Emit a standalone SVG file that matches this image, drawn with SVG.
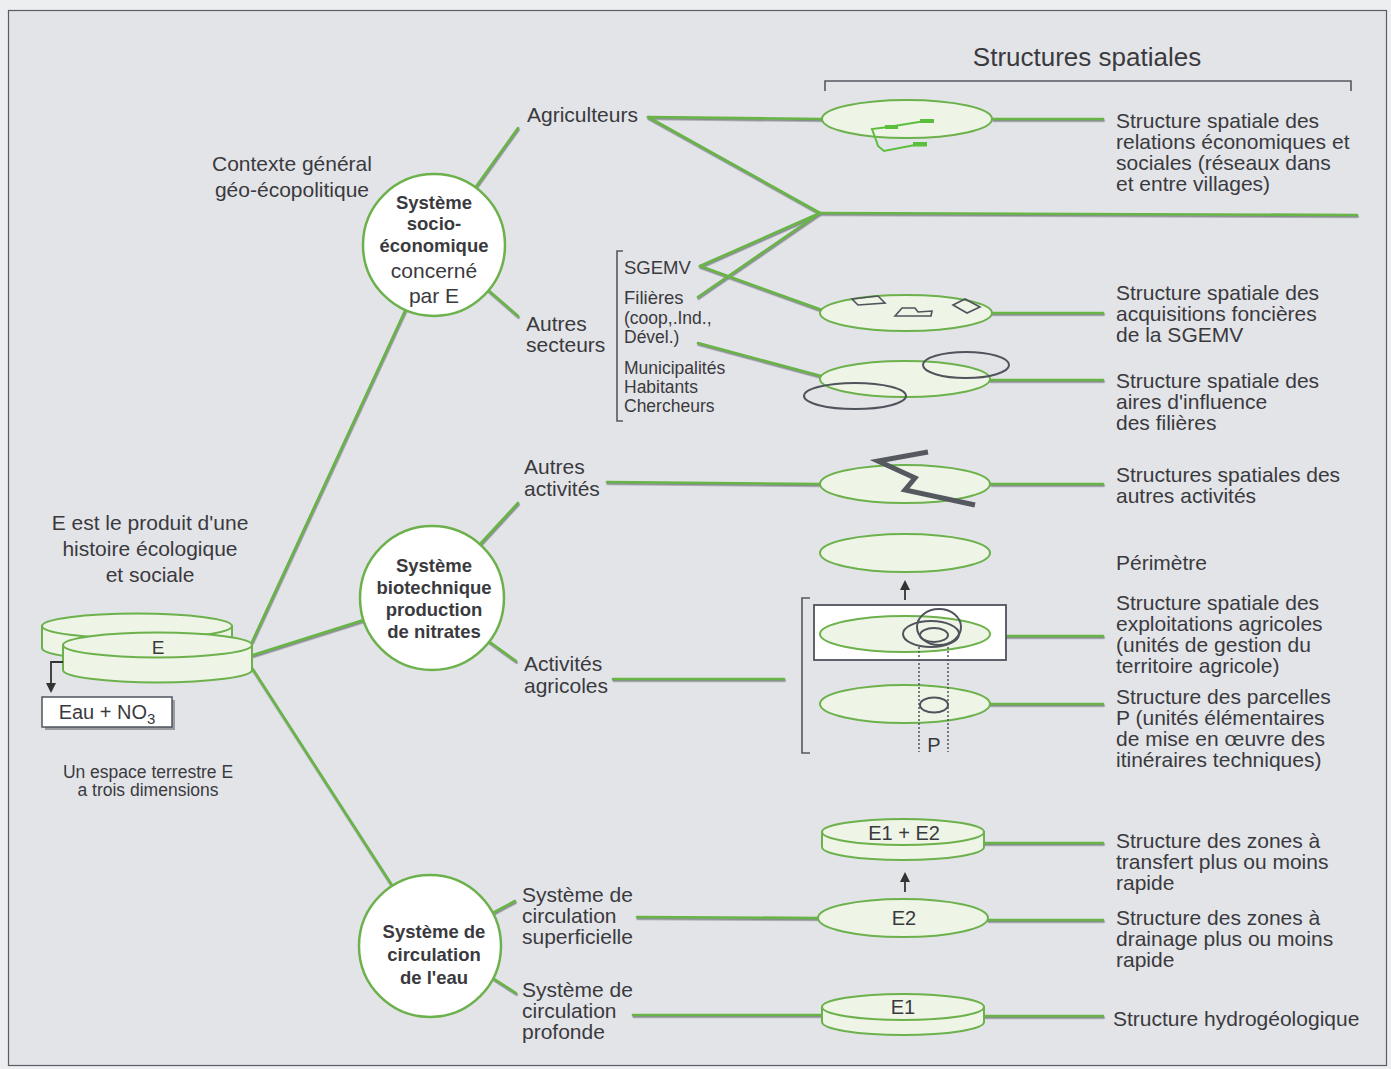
<svg xmlns="http://www.w3.org/2000/svg" width="1391" height="1069" viewBox="0 0 1391 1069">
<defs>
<style>
.t{font-family:"Liberation Sans",Arial,sans-serif;fill:#3a3a3e}
.r{font-size:21px}
.s{font-size:18.5px}
.sl{font-size:17.5px}
.b{font-size:18.5px;font-weight:bold}
.ell{fill:#eef4e6;stroke:#6cb14c;stroke-width:2}
.circ{fill:#ffffff;stroke:#6cb14c;stroke-width:2.5}
.conn{stroke:#68b445;stroke-width:2.6;fill:none;stroke-linecap:round}
.dk{fill:none;stroke:#4f535c;stroke-width:2}
.br{fill:none;stroke:#55585f;stroke-width:1.6}
</style>
<filter id="sh" x="-5%" y="-5%" width="110%" height="110%">
<feDropShadow dx="0.6" dy="1.6" stdDeviation="0.3" flood-color="#7e8088" flood-opacity="0.9"/>
</filter>
<marker id="ah" markerWidth="10" markerHeight="10" refX="5" refY="5" orient="auto" markerUnits="userSpaceOnUse">
<path d="M0,0 L10,5 L0,10 z" fill="#333"/>
</marker>
</defs>
<rect x="0" y="0" width="1391" height="1069" fill="#eceef0"/>
<rect x="8.5" y="10.5" width="1378" height="1055" fill="#e3e4e8" stroke="#5a5d63" stroke-width="1.2"/>

<g id="header">
<text class="t" x="1087" y="66" font-size="26" text-anchor="middle">Structures spatiales</text>
<path class="br" d="M825,91 V81 H1351 V91"/>
</g>

<g id="connectors" filter="url(#sh)">
<line class="conn" x1="252" y1="642" x2="410" y2="300"/>
<line class="conn" x1="253" y1="655" x2="370" y2="618"/>
<line class="conn" x1="252" y1="668" x2="395" y2="890"/>
<line class="conn" x1="470" y1="195" x2="518" y2="128"/>
<line class="conn" x1="480" y1="283" x2="518" y2="316"/>
<line class="conn" x1="470" y1="555" x2="518" y2="503"/>
<line class="conn" x1="480" y1="635" x2="516" y2="661"/>
<line class="conn" x1="485" y1="917" x2="515" y2="901"/>
<line class="conn" x1="488" y1="975" x2="516" y2="993"/>
<line class="conn" x1="648" y1="117" x2="822" y2="119"/>
<line class="conn" x1="648" y1="117" x2="820" y2="213"/>
<line class="conn" x1="820" y1="213" x2="1357" y2="215"/>
<line class="conn" x1="700" y1="266" x2="820" y2="213"/>
<line class="conn" x1="698" y1="297" x2="820" y2="213"/>
<line class="conn" x1="700" y1="266" x2="822" y2="310"/>
<line class="conn" x1="698" y1="343" x2="821" y2="376"/>
<line class="conn" x1="607" y1="482" x2="820" y2="484"/>
<line class="conn" x1="613" y1="679" x2="784" y2="679"/>
<line class="conn" x1="637" y1="917" x2="818" y2="918"/>
<line class="conn" x1="633" y1="1015" x2="822" y2="1015"/>
<line class="conn" x1="993" y1="119" x2="1103" y2="119"/>
<line class="conn" x1="992" y1="313" x2="1103" y2="313"/>
<line class="conn" x1="990" y1="380" x2="1103" y2="380"/>
<line class="conn" x1="991" y1="484" x2="1103" y2="484"/>
<line class="conn" x1="1006" y1="636" x2="1103" y2="636"/>
<line class="conn" x1="990" y1="704" x2="1103" y2="704"/>
<line class="conn" x1="984" y1="843" x2="1103" y2="843"/>
<line class="conn" x1="988" y1="920" x2="1103" y2="920"/>
<line class="conn" x1="984" y1="1016" x2="1103" y2="1016"/>
</g>

<g id="node-E">
<path class="ell" d="M42,626 V648 A95,12.5 0 0 0 232,648 V626 Z"/>
<ellipse class="ell" cx="137" cy="626" rx="95" ry="12.5"/>
<path class="ell" d="M63,645 V670 A94.5,12.5 0 0 0 252,670 V645 Z"/>
<ellipse class="ell" cx="157.5" cy="645" rx="94.5" ry="12.5"/>
<text class="t" x="158" y="654" font-size="19" text-anchor="middle">E</text>
<path d="M63,662 H51 V688" fill="none" stroke="#333" stroke-width="1.8" marker-end="url(#ah)"/>
</g>

<g id="node-eau">
<rect x="45" y="700" width="130" height="30" fill="#9a9ca2"/>
<rect x="42" y="697" width="130" height="30" fill="#ffffff" stroke="#4f535c" stroke-width="1.5"/>
<text class="t" x="107" y="719" font-size="20" text-anchor="middle">Eau + NO<tspan font-size="15" dy="5">3</tspan></text>
</g>

<g id="label-histoire">
<text class="t r" x="150" y="530" text-anchor="middle">E est le produit d'une</text>
<text class="t r" x="150" y="556" text-anchor="middle">histoire écologique</text>
<text class="t r" x="150" y="582" text-anchor="middle">et sociale</text>
</g>
<g id="label-espace">
<text class="t sl" x="148" y="778" text-anchor="middle">Un espace terrestre E</text>
<text class="t sl" x="148" y="796" text-anchor="middle">a trois dimensions</text>
</g>
<g id="label-contexte">
<text class="t r" x="292" y="171" text-anchor="middle">Contexte général</text>
<text class="t r" x="292" y="197" text-anchor="middle">géo-écopolitique</text>
</g>

<g id="node-socio">
<circle class="circ" cx="434" cy="245" r="71"/>
<text class="t b" x="434" y="209" text-anchor="middle">Système</text>
<text class="t b" x="434" y="230" text-anchor="middle">socio-</text>
<text class="t b" x="434" y="252" text-anchor="middle">économique</text>
<text class="t r" x="434" y="278" text-anchor="middle">concerné</text>
<text class="t r" x="434" y="303" text-anchor="middle">par E</text>
</g>

<g id="node-biotech">
<circle class="circ" cx="432" cy="598" r="72"/>
<text class="t b" x="434" y="572" text-anchor="middle">Système</text>
<text class="t b" x="434" y="594" text-anchor="middle">biotechnique</text>
<text class="t b" x="434" y="616" text-anchor="middle">production</text>
<text class="t b" x="434" y="638" text-anchor="middle">de nitrates</text>
</g>

<g id="node-eau-circ">
<circle class="circ" cx="430" cy="946" r="71"/>
<text class="t b" x="434" y="938" text-anchor="middle">Système de</text>
<text class="t b" x="434" y="961" text-anchor="middle">circulation</text>
<text class="t b" x="434" y="984" text-anchor="middle">de l'eau</text>
</g>

<g id="node-agriculteurs"><text class="t r" x="527" y="122">Agriculteurs</text></g>
<g id="node-autres-secteurs">
<text class="t r" x="526" y="331">Autres</text>
<text class="t r" x="526" y="352">secteurs</text>
</g>
<g id="node-secteurs-list">
<path class="br" d="M623,251 H617 V421 H623"/>
<text class="t s" x="624" y="274">SGEMV</text>
<text class="t s" x="624" y="304">Filières</text>
<text class="t sl" x="624" y="324">(coop,.Ind.,</text>
<text class="t sl" x="624" y="343">Dével.)</text>
<text class="t sl" x="624" y="374">Municipalités</text>
<text class="t sl" x="624" y="393">Habitants</text>
<text class="t sl" x="624" y="412">Chercheurs</text>
</g>
<g id="node-autres-activites">
<text class="t r" x="524" y="474">Autres</text>
<text class="t r" x="524" y="496">activités</text>
</g>
<g id="node-activites-agricoles">
<text class="t r" x="524" y="671">Activités</text>
<text class="t r" x="524" y="693">agricoles</text>
</g>
<g id="node-superficielle">
<text class="t r" x="522" y="902">Système de</text>
<text class="t r" x="522" y="923">circulation</text>
<text class="t r" x="522" y="944">superficielle</text>
</g>
<g id="node-profonde">
<text class="t r" x="522" y="997">Système de</text>
<text class="t r" x="522" y="1018">circulation</text>
<text class="t r" x="522" y="1039">profonde</text>
</g>

<g id="struct-relations">
<ellipse class="ell" cx="907" cy="119" rx="85" ry="19"/>
<polyline points="925,121 888,127 872,129 876,140 878,146 884,151 915,145 926,144" fill="none" stroke="#5cbf3c" stroke-width="2"/>
<rect x="885" y="125" width="13" height="4" fill="#5cbf3c"/>
<rect x="920" y="119" width="14" height="4" fill="#5cbf3c"/>
<rect x="913" y="142" width="14" height="4.5" fill="#5cbf3c"/>
</g>

<g id="struct-sgemv">
<ellipse class="ell" cx="906" cy="313" rx="86" ry="18"/>
<polygon class="dk" style="stroke-width:1.6" points="852,299 878,296 885,303 858,305"/>
<polygon class="dk" style="stroke-width:1.6" points="895,316 902,308 915,308 918,312 932,311 931,316"/>
<polygon class="dk" style="stroke-width:1.6" points="953,305 965,299 980,307 967,313"/>
</g>

<g id="struct-filieres">
<ellipse class="ell" cx="905" cy="379" rx="85" ry="18"/>
<ellipse class="dk" cx="966" cy="365" rx="43" ry="13"/>
<ellipse class="dk" cx="855" cy="396" rx="51" ry="13"/>
</g>

<g id="struct-autres-activites">
<ellipse class="ell" cx="905" cy="484" rx="85" ry="19"/>
<polyline points="928,452 878,461 915,478 905,490 975,505" fill="none" stroke="#55585f" stroke-width="5" stroke-linejoin="miter"/>
</g>

<g id="struct-perimetre">
<ellipse class="ell" cx="905" cy="553" rx="85" ry="19"/>
<line x1="905" y1="600" x2="905" y2="585" stroke="#333" stroke-width="1.8" marker-end="url(#ah)"/>
</g>

<g id="struct-exploitations">
<path class="br" d="M810,598 H802 V753 H810"/>
<rect x="814" y="605" width="192" height="55" fill="#ffffff" stroke="#4f535c" stroke-width="1.8"/>
<ellipse class="ell" cx="905" cy="634" rx="85" ry="18"/>
<ellipse class="dk" cx="939" cy="627" rx="22" ry="18"/>
<ellipse class="dk" cx="931" cy="634" rx="28" ry="13"/>
<ellipse class="dk" cx="934" cy="635" rx="14" ry="7"/>
</g>

<g id="struct-parcelles">
<ellipse class="ell" cx="905" cy="704" rx="85" ry="19"/>
<ellipse class="dk" cx="934" cy="705" rx="14" ry="7.5"/>
<line x1="919" y1="647" x2="919" y2="752" stroke="#4f535c" stroke-width="1.5" stroke-dasharray="2,2"/>
<line x1="948" y1="647" x2="948" y2="752" stroke="#4f535c" stroke-width="1.5" stroke-dasharray="2,2"/>
<text class="t" x="934" y="752" font-size="20" text-anchor="middle">P</text>
</g>

<g id="struct-E1E2">
<path class="ell" d="M822,832 V847 A81,13 0 0 0 984,847 V832 Z"/>
<ellipse class="ell" cx="903" cy="832" rx="81" ry="13"/>
<text class="t" x="904" y="840" font-size="20" text-anchor="middle">E1 + E2</text>
<line x1="905" y1="892" x2="905" y2="877" stroke="#333" stroke-width="1.8" marker-end="url(#ah)"/>
</g>

<g id="struct-E2">
<ellipse class="ell" cx="903" cy="918" rx="85" ry="19"/>
<text class="t" x="904" y="925" font-size="20" text-anchor="middle">E2</text>
</g>

<g id="struct-E1">
<path class="ell" d="M822,1007 V1022 A81,13 0 0 0 984,1022 V1007 Z"/>
<ellipse class="ell" cx="903" cy="1007" rx="81" ry="13"/>
<text class="t" x="903" y="1014" font-size="20" text-anchor="middle">E1</text>
</g>

<g id="labels-right">
<text class="t r" x="1116" y="128">Structure spatiale des</text>
<text class="t r" x="1116" y="149">relations économiques et</text>
<text class="t r" x="1116" y="170">sociales (réseaux dans</text>
<text class="t r" x="1116" y="191">et entre villages)</text>

<text class="t r" x="1116" y="300">Structure spatiale des</text>
<text class="t r" x="1116" y="321">acquisitions foncières</text>
<text class="t r" x="1116" y="342">de la SGEMV</text>

<text class="t r" x="1116" y="388">Structure spatiale des</text>
<text class="t r" x="1116" y="409">aires d'influence</text>
<text class="t r" x="1116" y="430">des filières</text>

<text class="t r" x="1116" y="482">Structures spatiales des</text>
<text class="t r" x="1116" y="503">autres activités</text>

<text class="t r" x="1116" y="570">Périmètre</text>

<text class="t r" x="1116" y="610">Structure spatiale des</text>
<text class="t r" x="1116" y="631">exploitations agricoles</text>
<text class="t r" x="1116" y="652">(unités de gestion du</text>
<text class="t r" x="1116" y="673">territoire agricole)</text>

<text class="t r" x="1116" y="704">Structure des parcelles</text>
<text class="t r" x="1116" y="725">P (unités élémentaires</text>
<text class="t r" x="1116" y="746">de mise en œuvre des</text>
<text class="t r" x="1116" y="767">itinéraires techniques)</text>

<text class="t r" x="1116" y="848">Structure des zones à</text>
<text class="t r" x="1116" y="869">transfert plus ou moins</text>
<text class="t r" x="1116" y="890">rapide</text>

<text class="t r" x="1116" y="925">Structure des zones à</text>
<text class="t r" x="1116" y="946">drainage plus ou moins</text>
<text class="t r" x="1116" y="967">rapide</text>

<text class="t r" x="1113" y="1026">Structure hydrogéologique</text>
</g>
</svg>
